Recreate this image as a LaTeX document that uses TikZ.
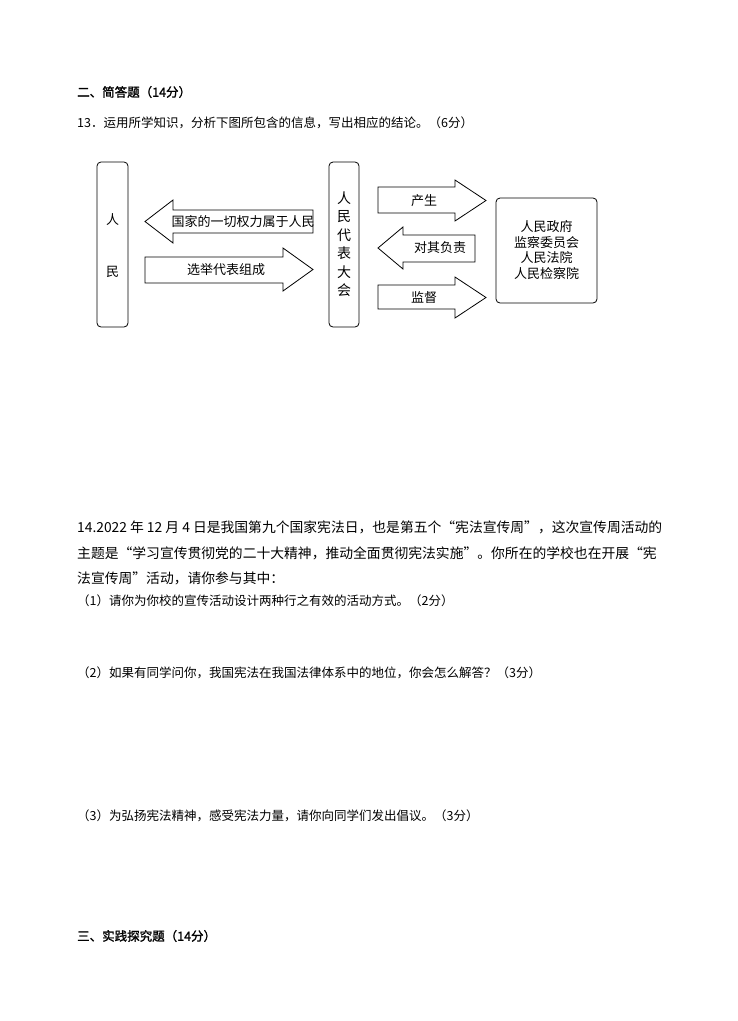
\documentclass[tikz,border=0pt]{standalone}
\usepackage{fontspec}
\setmainfont{Noto Sans CJK SC}
\newfontfamily\cjkb[FakeBold=1.5]{Noto Sans CJK SC}
\begin{document}
\begin{tikzpicture}[x=1pt,y=-1pt,
  txt/.style={anchor=west,inner sep=0pt,font=\fontsize{12.5}{14}\selectfont},
  ltxt/.style={anchor=west,inner sep=0pt,font=\fontsize{13.8}{15}\selectfont},
  dtxt/.style={inner sep=0pt,font=\fontsize{13}{15}\selectfont},
  box/.style={draw,rounded corners=4pt,line width=0.8pt},
  arr/.style={draw,line width=0.8pt,fill=white}]
\useasboundingbox[fill=white] (0,0) rectangle (737,1021);
\node[txt] (h2) at (77,92) {\cjkb 二、简答题（14分）};
\node[txt] (q13) at (77,123) {13．运用所学知识，分析下图所包含的信息，写出相应的结论。（6分）};
% boxes
\draw[box] (97,162) rectangle (128,327);
\node[dtxt] (ren) at (112.5,220) {人};
\node[dtxt] (min) at (112.5,272) {民};
\draw[box] (329,162) rectangle (359,327);
\node[dtxt,align=center,font=\fontsize{14}{18.5}\selectfont] (rd) at (344,244) {人\\民\\代\\表\\大\\会};
\draw[box] (496,198) rectangle (597,303);
\node[dtxt,align=center,font=\fontsize{13}{15.5}\selectfont] (gov) at (546.5,250) {人民政府\\监察委员会\\人民法院\\人民检察院};
% arrows
\draw[arr] (145,221.5) -- (173,200) -- (173,210) -- (313,210) -- (313,233) -- (173,233) -- (173,243) -- cycle;
\node[dtxt] (a1) at (243,222) {国家的一切权力属于人民};
\draw[arr] (145,257) -- (283,257) -- (283,248) -- (313,269.5) -- (283,291) -- (283,283) -- (145,283) -- cycle;
\node[dtxt] (a2) at (226,270) {选举代表组成};
\draw[arr] (378,187) -- (455,187) -- (455,180) -- (486,200.5) -- (455,221) -- (455,213) -- (378,213) -- cycle;
\node[dtxt] (a3) at (424,201) {产生};
\draw[arr] (378,248) -- (403,227) -- (403,235) -- (475,235) -- (475,262) -- (403,262) -- (403,269) -- cycle;
\node[dtxt] (a4) at (440,248) {对其负责};
\draw[arr] (378,285) -- (455,285) -- (455,277) -- (486,297.5) -- (455,318) -- (455,309) -- (378,309) -- cycle;
\node[dtxt] (a5) at (424,298) {监督};
% question 14
\node[ltxt] (l1) at (77,527) {14.2022 年 12 月 4 日是我国第九个国家宪法日，也是第五个“宪法宣传周”，这次宣传周活动的};
\node[ltxt] (l2) at (77,553) {主题是“学习宣传贯彻党的二十大精神，推动全面贯彻宪法实施”。你所在的学校也在开展“宪};
\node[ltxt] (l3) at (77,578) {法宣传周”活动，请你参与其中：};
\node[txt] (p1) at (77,601) {（1）请你为你校的宣传活动设计两种行之有效的活动方式。（2分）};
\node[txt] (p2) at (77,673) {（2）如果有同学问你，我国宪法在我国法律体系中的地位，你会怎么解答？（3分）};
\node[txt] (p3) at (77,816) {（3）为弘扬宪法精神，感受宪法力量，请你向同学们发出倡议。（3分）};
\node[txt] (h3) at (77,936) {\cjkb 三、实践探究题（14分）};
\end{tikzpicture}
\end{document}
